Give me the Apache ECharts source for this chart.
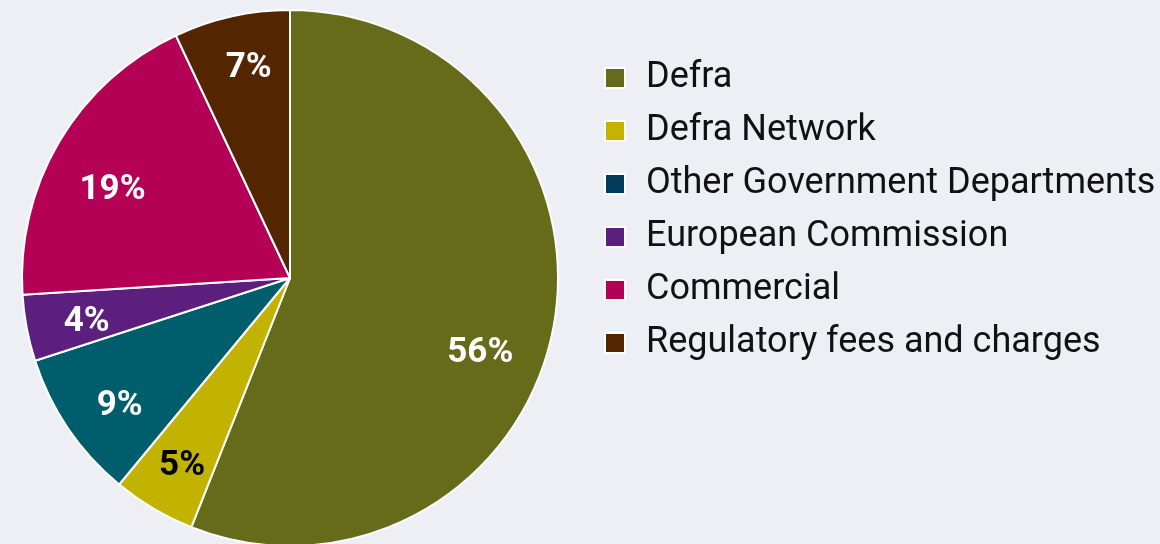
<!DOCTYPE html>
<html><head><meta charset="utf-8">
<script src="https://cdn.jsdelivr.net/npm/echarts@6/dist/echarts.min.js"></script>
<style>html,body{margin:0;padding:0;background:#eeeff5;}#c{width:1160px;height:544px;}</style>
</head><body><div id="c"></div>
<script>
const categories = ['Defra','Defra Network','Other Government Departments','European Commission','Commercial','Regulatory fees and charges'];
const values = [56,5,9,4,19,7];
const sliceColors = ['#666b1a','#c1b300','#005e6c','#5c1f7e','#b40055','#532500'];
const legendColors = ['#666a1c','#c4b400','#003b5c','#5c1f7e','#b40055','#532500'];
const labelColors = ['#ffffff','#000000','#ffffff','#ffffff','#ffffff','#ffffff'];

const FONT = 'Roboto, "Open Sans", sans-serif';
const chart = echarts.init(document.getElementById('c'));
const center = [290, 278];
const R = 268;
const labelOffsets = [[-18,36],[0,6],[5,9],[5,5],[5,20],[5,-3]];

const mainData = categories.map((n,i)=>({name:n,value:values[i],itemStyle:{color:sliceColors[i]}}));
const labelData = categories.map((n,i)=>({name:n,value:values[i],label:{color:labelColors[i], offset: labelOffsets[i]}}));

chart.setOption({
  backgroundColor:'#eeeff5',
  animation:false,
  legend:{
    orient:'vertical', left:604, top:60, padding:0,
    itemWidth:20, itemHeight:20, itemGap:17,
    icon:'rect',
    data: categories.map((n,i)=>({name:n,itemStyle:{color:legendColors[i]}})),
    textStyle:{fontFamily:FONT,fontSize:36,color:'#111',padding:[0,0,0,16],lineHeight:36},
    selectedMode:false
  },
  series:[
    {type:'pie',center:center,radius:[0,R],startAngle:90,clockwise:true,
     silent:true,
     itemStyle:{borderColor:'#ffffff',borderWidth:2},
     label:{show:false},labelLine:{show:false},
     data:mainData},
    {type:'pie',center:center,radius:[R*0.56,R],startAngle:90,clockwise:true,
     silent:true,
     itemStyle:{color:'rgba(0,0,0,0)',borderWidth:0},
     label:{show:true,position:'inside',formatter:'{c}%',fontFamily:FONT,fontWeight:'bold',fontSize:35},
     labelLine:{show:false},
     data:labelData}
  ]
});
</script></body></html>
